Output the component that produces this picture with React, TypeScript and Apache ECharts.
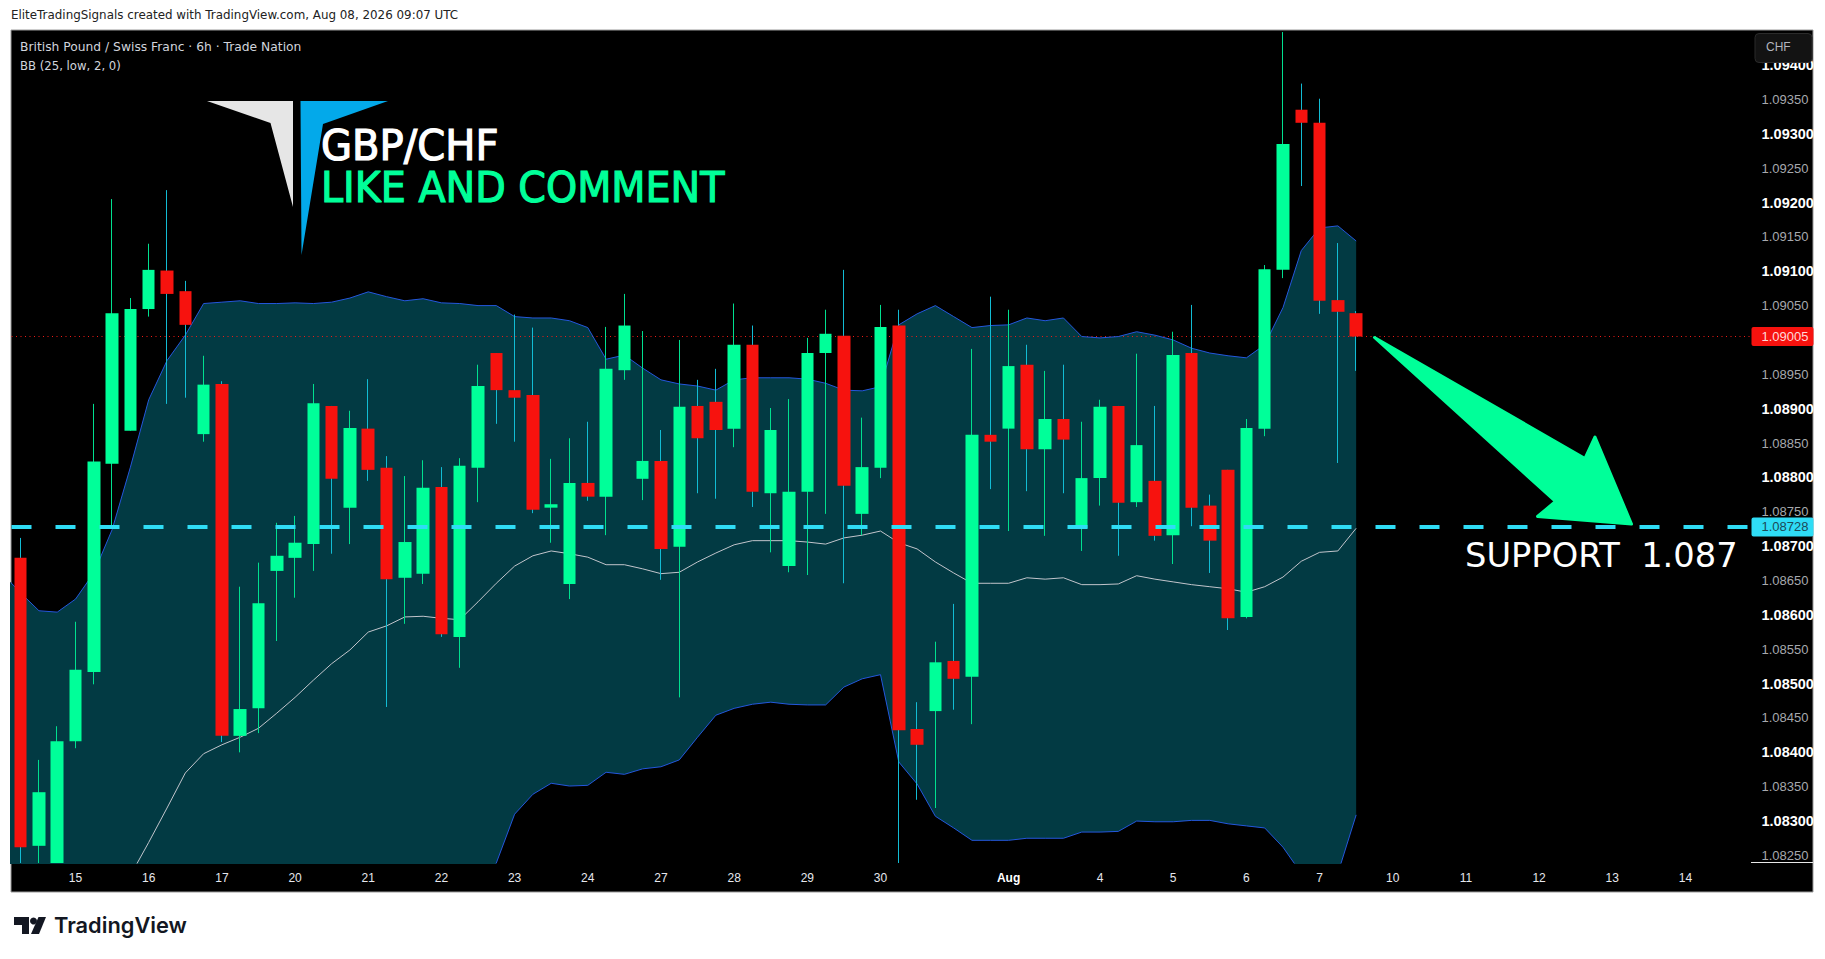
import { useEffect, useRef } from 'react'
import * as echarts from 'echarts'

// 6h candles, Jul 14 - Aug 7; where a candle runs off the bottom of the pane it stops at the pane's edge
const opens = [1.08683,1.08264,1.08239,1.08416,1.08517,1.08820,1.08868,1.09045,1.09101,1.09071,1.08863,1.08936,1.08424,1.08464,1.08664,1.08683,1.08703,1.08904,1.08756,1.08871,1.08814,1.08654,1.08660,1.08786,1.08568,1.08814,1.08981,1.08927,1.08920,1.08756,1.08645,1.08792,1.08772,1.08956,1.08798,1.08824,1.08699,1.08904,1.08910,1.08871,1.08993,1.08777,1.08671,1.08779,1.08981,1.09006,1.08747,1.08814,1.09021,1.08434,1.08460,1.08533,1.08510,1.08862,1.08871,1.08964,1.08841,1.08885,1.08726,1.08799,1.08904,1.08764,1.08795,1.08716,1.08981,1.08759,1.08811,1.08597,1.08871,1.09102,1.09335,1.09316,1.09058,1.09039]
const closes = [1.08262,1.08342,1.08416,1.08520,1.08823,1.09039,1.09045,1.09102,1.09067,1.09022,1.08935,1.08424,1.08463,1.08617,1.08686,1.08705,1.08908,1.08798,1.08872,1.08811,1.08652,1.08706,1.08785,1.08572,1.08817,1.08933,1.08927,1.08916,1.08753,1.08761,1.08792,1.08772,1.08958,1.09021,1.08824,1.08696,1.08903,1.08857,1.08869,1.08993,1.08779,1.08869,1.08779,1.08981,1.09009,1.08788,1.08815,1.09019,1.08432,1.08411,1.08531,1.08507,1.08862,1.08852,1.08962,1.08841,1.08885,1.08855,1.08799,1.08903,1.08763,1.08847,1.08715,1.08978,1.08756,1.08708,1.08595,1.08872,1.09103,1.09285,1.09316,1.09057,1.09041,1.09005]
const lows = [1.08239,1.08239,1.08239,1.08406,1.08499,1.08728,1.08868,1.09034,1.08907,1.08916,1.08852,1.08415,1.08400,1.08428,1.08562,1.08625,1.08664,1.08689,1.08703,1.08795,1.08466,1.08587,1.08645,1.08568,1.08523,1.08764,1.08878,1.08852,1.08748,1.08705,1.08623,1.08766,1.08716,1.08942,1.08767,1.08651,1.08480,1.08777,1.08769,1.08844,1.08757,1.08691,1.08662,1.08658,1.08747,1.08646,1.08716,1.08799,1.08239,1.08331,1.08319,1.08462,1.08441,1.08783,1.08722,1.08780,1.08715,1.08777,1.08693,1.08759,1.08686,1.08757,1.08708,1.08674,1.08729,1.08661,1.08578,1.08595,1.08860,1.09090,1.09224,1.09038,1.08821,1.08955]
const highs = [1.08712,1.08389,1.08438,1.08590,1.08907,1.09205,1.09061,1.09140,1.09218,1.09086,1.08977,1.08940,1.08641,1.08676,1.08734,1.08744,1.08936,1.08904,1.08897,1.08943,1.08831,1.08802,1.08825,1.08815,1.08828,1.08964,1.08981,1.09037,1.09018,1.08827,1.08857,1.08881,1.09019,1.09067,1.09013,1.08869,1.09000,1.08942,1.08958,1.09053,1.09021,1.08901,1.08914,1.09003,1.09044,1.09102,1.08887,1.09051,1.09044,1.08473,1.08561,1.08616,1.08987,1.09063,1.09044,1.08993,1.08955,1.08964,1.08881,1.08913,1.08904,1.08980,1.08904,1.09012,1.09051,1.08775,1.08811,1.08885,1.09109,1.09448,1.09373,1.09351,1.09141,1.09042]

// Bollinger band, one point more on the left: that bar sits off screen
const bbUpper = [1.08660,1.08632,1.08606,1.08604,1.08623,1.08661,1.08724,1.08815,1.08913,1.08970,1.09007,1.09053,1.09055,1.09057,1.09053,1.09053,1.09054,1.09053,1.09055,1.09061,1.09070,1.09063,1.09057,1.09060,1.09054,1.09053,1.09050,1.09050,1.09034,1.09032,1.09032,1.09028,1.09018,1.08972,1.08978,1.08959,1.08942,1.08936,1.08933,1.08927,1.08942,1.08945,1.08945,1.08945,1.08943,1.08937,1.08927,1.08926,1.08932,1.09022,1.09038,1.09050,1.09034,1.09018,1.09021,1.09022,1.09032,1.09028,1.09032,1.09005,1.09003,1.09005,1.09012,1.09007,1.09000,1.08988,1.08981,1.08977,1.08974,1.08993,1.09047,1.09130,1.09163,1.09166,1.09144]
const bbMiddle = [null,null,null,null,null,1.08117,1.08170,1.08221,1.08269,1.08319,1.08370,1.08398,1.08411,1.08422,1.08435,1.08457,1.08480,1.08505,1.08529,1.08549,1.08575,1.08584,1.08597,1.08598,1.08595,1.08593,1.08619,1.08646,1.08671,1.08686,1.08693,1.08689,1.08684,1.08673,1.08673,1.08667,1.08660,1.08662,1.08677,1.08690,1.08702,1.08708,1.08708,1.08708,1.08706,1.08703,1.08712,1.08716,1.08722,1.08705,1.08696,1.08677,1.08661,1.08646,1.08646,1.08646,1.08654,1.08652,1.08654,1.08644,1.08644,1.08645,1.08657,1.08652,1.08648,1.08644,1.08641,1.08638,1.08633,1.08641,1.08655,1.08678,1.08691,1.08693,1.08726]
const bbLower = [1.07457,1.07457,1.07457,1.07457,1.07457,1.07572,1.07617,1.07628,1.07626,1.07668,1.07732,1.07743,1.07766,1.07788,1.07818,1.07862,1.07907,1.07958,1.08002,1.08037,1.08080,1.08105,1.08137,1.08137,1.08137,1.08133,1.08188,1.08239,1.08310,1.08339,1.08355,1.08351,1.08352,1.08371,1.08368,1.08376,1.08379,1.08389,1.08422,1.08454,1.08464,1.08470,1.08473,1.08470,1.08469,1.08469,1.08495,1.08507,1.08513,1.08386,1.08354,1.08307,1.08290,1.08272,1.08272,1.08272,1.08275,1.08275,1.08275,1.08284,1.08284,1.08285,1.08300,1.08299,1.08299,1.08301,1.08301,1.08296,1.08293,1.08290,1.08262,1.08224,1.08214,1.08224,1.08309]

// axis labels, keyed by bar number; bars past 73 are the empty future part of the chart
const dateLabels: Record<number, string> = { 3: '15', 7: '16', 11: '17', 15: '20', 19: '21', 23: '22', 27: '23', 31: '24', 35: '27', 39: '28', 43: '29', 47: '30', 54: 'Aug', 59: '4', 63: '5', 67: '6', 71: '7', 75: '10', 79: '11', 83: '12', 87: '13', 91: '14' }
// 1.09000 sits behind the last price tag in the original, so it is left out
const priceTicks = [1.0825,1.083,1.0835,1.084,1.0845,1.085,1.0855,1.086,1.0865,1.087,1.0875,1.088,1.0885,1.089,1.0895,1.0905,1.091,1.0915,1.092,1.0925,1.093,1.0935,1.094]
const lastPrice = 1.09005
const supportPrice = 1.08728

const GREEN = '#00ff99'
const RED = '#f7120e'
const BAND = '#023a43'
const BLUE = '#2457dc'
const CYAN = '#2fdcf5'
const AXIS_FONT = '"Liberation Sans"'
const TEXT_FONT = '"DejaVu Sans"'

const barCount = 95
const categories = ['', ...Array.from({ length: barCount }, (_, i) => dateLabels[i] ?? '')]

function buildOption() {
  const wicks = opens.map((o, i) => ({
    value: [o, closes[i], lows[i], highs[i]],
    itemStyle: o > closes[i]
      ? { color: '#12bcd4', color0: '#12bcd4', borderColor: '#12bcd4', borderColor0: '#12bcd4' }
      : { color: '#00e08f', color0: '#00e08f', borderColor: '#00e08f', borderColor0: '#00e08f' }
  }))
  const bodies = opens.map((o, i) => [o, closes[i], Math.min(o, closes[i]), Math.max(o, closes[i])])
  const blank = ['-', '-', '-', '-']
  const lineBase = { type: 'line', showSymbol: false, silent: true, connectNulls: false }

  return {
    animation: false,
    backgroundColor: '#ffffff',
    grid: { left: 11.5, top: 30, width: 1738, height: 833, containLabel: false },
    xAxis: {
      type: 'category',
      data: categories,
      min: 1,
      max: 95,
      axisLine: { show: false },
      axisTick: { show: false },
      splitLine: { show: false },
      axisLabel: {
        interval: (_: number, v: string) => v !== '',
        margin: 9,
        color: '#e6e8ee',
        fontFamily: AXIS_FONT,
        fontSize: 12,
        hideOverlap: false,
        formatter: (v: string) => (v === 'Aug' ? '{b|Aug}' : v),
        rich: { b: { fontWeight: 'bold', color: '#ffffff', fontFamily: AXIS_FONT, fontSize: 12 } }
      }
    },
    yAxis: {
      type: 'value',
      position: 'right',
      min: 1.08239,
      max: 1.09451,
      axisLine: { show: false },
      axisTick: { show: false },
      splitLine: { show: false },
      axisLabel: {
        customValues: priceTicks,
        margin: 12,
        fontFamily: AXIS_FONT,
        formatter: (v: number) => {
          const major = Math.round(v * 100000) % 100 === 0
          return `{${major ? 'major' : 'minor'}|${v.toFixed(5)}}`
        },
        rich: {
          major: { color: '#ffffff', fontWeight: 'bold', fontSize: 14.5, fontFamily: AXIS_FONT },
          minor: { color: '#a6a8ad', fontSize: 13, fontFamily: AXIS_FONT }
        }
      }
    },
    series: [
      { ...lineBase, name: 'bb base', stack: 'bb', z: 1, lineStyle: { opacity: 0 }, data: bbLower },
      {
        ...lineBase,
        name: 'bb fill',
        stack: 'bb',
        z: 1,
        lineStyle: { opacity: 0 },
        areaStyle: { color: BAND, opacity: 1 },
        data: bbUpper.map((u, i) => u - bbLower[i])
      },
      {
        ...lineBase,
        name: 'price line',
        z: 2,
        data: [],
        markLine: {
          silent: true,
          symbol: 'none',
          z: 2,
          precision: 5,
          label: {
            position: 'end',
            distance: 2,
            formatter: lastPrice.toFixed(5),
            color: '#ffd9d9',
            backgroundColor: RED,
            padding: [3, 5, 3, 10],
            borderRadius: 2,
            fontFamily: AXIS_FONT,
            fontSize: 13
          },
          lineStyle: { color: '#f01a16', width: 1, type: [1, 3.5] },
          data: [{ yAxis: lastPrice }]
        }
      },
      { ...lineBase, name: 'BB upper', z: 3, lineStyle: { color: BLUE, width: 1 }, data: bbUpper },
      { ...lineBase, name: 'BB lower', z: 3, lineStyle: { color: BLUE, width: 1 }, data: bbLower },
      { ...lineBase, name: 'BB basis', z: 3, lineStyle: { color: '#c2c5cc', width: 1 }, data: bbMiddle },
      {
        type: 'candlestick',
        name: 'wicks',
        z: 4,
        silent: true,
        barWidth: 1,
        itemStyle: { borderWidth: 1 },
        data: [blank, ...wicks]
      },
      {
        type: 'candlestick',
        name: 'GBPCHF',
        z: 5,
        silent: true,
        barWidth: 13,
        itemStyle: { color: GREEN, color0: RED, borderColor: GREEN, borderColor0: RED, borderWidth: 0 },
        data: [blank, ...bodies]
      },
      {
        ...lineBase,
        name: 'support line',
        z: 6,
        data: [],
        markLine: {
          silent: true,
          symbol: 'none',
          z: 6,
          precision: 5,
          label: {
            position: 'end',
            distance: 2,
            formatter: supportPrice.toFixed(5),
            color: '#1c4a57',
            backgroundColor: CYAN,
            padding: [3, 5, 3, 10],
            borderRadius: 2,
            fontFamily: AXIS_FONT,
            fontSize: 13
          },
          lineStyle: { color: CYAN, width: 4, type: [20, 24] },
          data: [{ yAxis: supportPrice }]
        }
      }
    ],
    graphic: [
      // page frame and chart background
      { type: 'rect', z: -10, shape: { x: 11, y: 30, width: 1802, height: 862 }, style: { fill: '#000000', stroke: '#9a9a9a', lineWidth: 1 } },
      { type: 'line', z: 20, shape: { x1: 1751, y1: 862.5, x2: 1813, y2: 862.5 }, style: { stroke: '#e8e8e8', lineWidth: 1 } },

      // header + legend
      { type: 'text', z: 50, x: 11, y: 9, style: { text: 'EliteTradingSignals created with TradingView.com, Aug 08, 2026 09:07 UTC', fill: '#222222', font: `11.9px ${TEXT_FONT}` } },
      { type: 'text', z: 50, x: 20, y: 41, style: { text: 'British Pound / Swiss Franc · 6h · Trade Nation', fill: '#d1d4dc', font: `12.3px ${TEXT_FONT}` } },
      { type: 'text', z: 50, x: 20, y: 60, style: { text: 'BB (25, low, 2, 0)', fill: '#d1d4dc', font: `11.7px ${TEXT_FONT}` } },

      // currency button
      { type: 'rect', z: 50, shape: { x: 1755, y: 33.5, width: 57, height: 29, r: 4 }, style: { fill: '#131313', stroke: '#2b2b2b', lineWidth: 1 } },
      { type: 'text', z: 51, x: 1766, y: 41, style: { text: 'CHF', fill: '#b2b5be', font: `12px ${AXIS_FONT}` } },

      // brand mark
      { type: 'polygon', z: 60, shape: { points: [[207, 101], [293, 101], [293, 207], [270.5, 123]] }, style: { fill: '#e6e6e6' } },
      { type: 'polygon', z: 60, shape: { points: [[300.5, 101], [388, 101], [323, 124], [301.5, 255]] }, style: { fill: '#03a9ea' } },
      { type: 'text', z: 61, x: 321, y: 125, scaleX: 0.955, style: { text: 'GBP/CHF', fill: '#ffffff', stroke: '#ffffff', lineWidth: 1.2, font: `42px ${TEXT_FONT}` } },
      { type: 'text', z: 61, x: 321, y: 167, scaleX: 0.944, style: { text: 'LIKE AND COMMENT', fill: GREEN, stroke: GREEN, lineWidth: 1.2, font: `42px ${TEXT_FONT}` } },

      // drawn arrow and label
      { type: 'polygon', z: 60, shape: { points: [[1374.5, 337.5], [1585, 458.5], [1595, 437], [1631.5, 524], [1537.5, 516.5], [1555.5, 501.5]] }, style: { fill: GREEN, stroke: GREEN, lineWidth: 3, lineJoin: 'round' } },
      { type: 'text', z: 61, x: 1465, y: 538, style: { text: 'SUPPORT  1.087', fill: '#ffffff', font: `33.7px ${TEXT_FONT}` } },

      // TradingView logo
      { type: 'polygon', z: 50, shape: { points: [[14, 917], [29, 917], [29, 934], [22, 934], [22, 925], [14, 925]] }, style: { fill: '#131722' } },
      { type: 'circle', z: 50, shape: { cx: 33.5, cy: 921, r: 3.5 }, style: { fill: '#131722' } },
      { type: 'polygon', z: 50, shape: { points: [[38.5, 917], [46, 917], [39, 934], [31, 934]] }, style: { fill: '#131722' } },
      { type: 'text', z: 50, x: 54, y: 914, style: { text: 'TradingView', fill: '#131722', font: `600 21.8px Inter` } }
    ]
  }
}

export default function App() {
  const containerRef = useRef<HTMLDivElement>(null)

  useEffect(() => {
    if (!containerRef.current) return
    document.body.style.margin = '0'
    const instance = echarts.init(containerRef.current, undefined, { renderer: 'svg' })
    instance.setOption(buildOption())
    return () => {
      instance.dispose()
    }
  }, [])

  return <div ref={containerRef} style={{ width: 1825, height: 959 }} />
}
